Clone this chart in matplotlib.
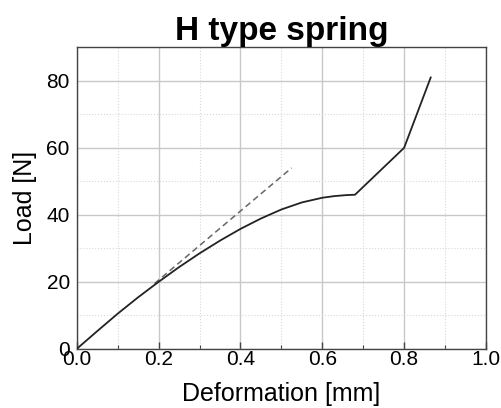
import matplotlib
matplotlib.use('Agg')
import matplotlib.pyplot as plt
from matplotlib.ticker import MultipleLocator, FormatStrFormatter

# Load-deformation curve
deform = [0.0, 0.05, 0.1, 0.15, 0.2, 0.25, 0.3, 0.35, 0.4, 0.45, 0.5, 0.55,
          0.6, 0.63, 0.66, 0.68, 0.8, 0.865]
load = [0.0, 5.3, 10.5, 15.4, 20.0, 24.4, 28.5, 32.3, 35.8, 38.9, 41.6, 43.7,
        45.1, 45.6, 45.9, 46.0, 60.0, 81.0]

# Linear (initial stiffness) reference line
lin_x = [0.19, 0.525]
lin_y = [19.5, 54.0]

plt.rcParams['font.family'] = ['Liberation Sans', 'DejaVu Sans']

fig = plt.figure(figsize=(5.02, 4.08), dpi=100)
ax = fig.add_axes([0.153, 0.145, 0.815, 0.739])

ax.plot(deform, load, color="#222222", linewidth=1.3, zorder=3)
ax.plot(lin_x, lin_y, color="#666666", linewidth=1.1, linestyle=(0, (4, 2.5)), zorder=2)

ax.set_xlim(0, 1.0)
ax.set_ylim(0, 90)
ax.xaxis.set_major_locator(MultipleLocator(0.2))
ax.xaxis.set_minor_locator(MultipleLocator(0.1))
ax.yaxis.set_major_locator(MultipleLocator(20))
ax.yaxis.set_minor_locator(MultipleLocator(10))
ax.xaxis.set_major_formatter(FormatStrFormatter('%.1f'))

ax.grid(True, which="major", color="#c8c8c8", linewidth=1.0)
ax.grid(True, which="minor", color="#d8d8d8", linewidth=0.8, linestyle=":")
ax.set_axisbelow(True)

ax.tick_params(which="major", direction="in", length=5, width=1.0,
               labelsize=15, color="#444444")
ax.tick_params(axis="x", which="major", pad=1)
ax.tick_params(axis="y", which="major", pad=5)
ax.tick_params(which="minor", direction="in", length=3, width=0.8, color="#444444")
ax.tick_params(axis="y", which="both", left=False)

for s in ax.spines.values():
    s.set_color("#444444")
    s.set_linewidth(1.0)

ax.set_xlabel("Deformation [mm]", fontsize=18, labelpad=9)
ax.set_ylabel("Load [N]", fontsize=18, labelpad=7)
ax.set_title("H type spring", fontsize=24, fontweight="bold", pad=2)

fig.savefig("out.png", dpi=100)
